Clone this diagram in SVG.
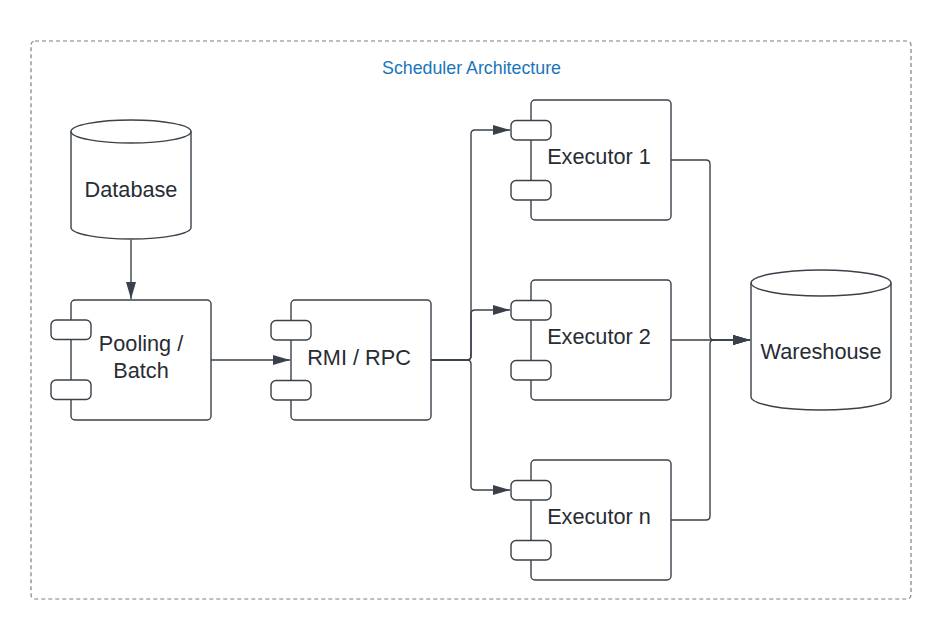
<svg xmlns="http://www.w3.org/2000/svg" width="951" height="639" viewBox="0 0 951 639">
<style>
.shape{fill:#fff;stroke:#3a414a;stroke-width:1.4}
.port{fill:#fff;stroke:#3a414a;stroke-width:1.4}
.conn{fill:none;stroke:#3a414a;stroke-width:1.4}
.lbl{font-family:"Liberation Sans",Arial,sans-serif;font-size:21.7px;fill:#282c33;text-anchor:middle}
.title{font-family:"Liberation Sans",Arial,sans-serif;font-size:17.8px;fill:#1a75bb;text-anchor:middle}
</style>
<defs>
<marker id="arr" markerUnits="userSpaceOnUse" markerWidth="18" markerHeight="12" refX="17" refY="5" orient="auto">
<path d="M0,0 L17,5 L0,10 Z" fill="#3a414a"/>
</marker>
</defs>
<rect width="951" height="639" fill="#fff"/>
<g id="container">
<rect x="31" y="41" width="880" height="558" rx="4" fill="none" stroke="#7a7f86" stroke-width="1.2" stroke-dasharray="4 3"/>
<text class="title" x="471.5" y="74">Scheduler Architecture</text>
</g>
<g id="connectors">
<path class="conn" d="M131,240 V299" marker-end="url(#arr)"/>
<path class="conn" d="M211,360 H290" marker-end="url(#arr)"/>
<path class="conn" d="M431,360 H467 Q471,360 471,356 V134 Q471,130 475,130 H510" marker-end="url(#arr)"/>
<path class="conn" d="M431,360 H467 Q471,360 471,356 V314 Q471,310 475,310 H510" marker-end="url(#arr)"/>
<path class="conn" d="M431,360 H467 Q471,360 471,364 V486 Q471,490 475,490 H510" marker-end="url(#arr)"/>
<path class="conn" d="M671,160 H706 Q710,160 710,164 V336 Q710,340 714,340 H750" marker-end="url(#arr)"/>
<path class="conn" d="M671,340 H750" marker-end="url(#arr)"/>
<path class="conn" d="M671,520 H706 Q710,520 710,516 V344 Q710,340 714,340 H750" marker-end="url(#arr)"/>
</g>
<g id="database">
<path class="shape" d="M71,131.5 A60,11.5 0 0 1 191,131.5 V227.5 A60,11.5 0 0 1 71,227.5 Z"/>
<path class="conn" d="M71,131.5 A60,11.5 0 0 0 191,131.5"/>
<text class="lbl" x="131" y="197">Database</text>
</g>
<g id="pooling">
<rect class="shape" x="71" y="300" width="140" height="120" rx="4"/>
<rect class="port" x="51" y="320" width="40" height="19.5" rx="5"/>
<rect class="port" x="51" y="380" width="40" height="19.5" rx="5"/>
<text class="lbl" x="141" y="351">Pooling /</text>
<text class="lbl" x="141" y="378">Batch</text>
</g>
<g id="rmi">
<rect class="shape" x="291" y="300" width="140" height="120" rx="4"/>
<rect class="port" x="271" y="320.5" width="40" height="19.5" rx="5"/>
<rect class="port" x="271" y="380.5" width="40" height="19.5" rx="5"/>
<text class="lbl" x="359" y="365">RMI / RPC</text>
</g>
<g id="executor1">
<rect class="shape" x="531" y="100" width="140" height="120" rx="4"/>
<rect class="port" x="511" y="120.5" width="40" height="19.5" rx="5"/>
<rect class="port" x="511" y="180.5" width="40" height="19.5" rx="5"/>
<text class="lbl" x="599" y="164">Executor 1</text>
</g>
<g id="executor2">
<rect class="shape" x="531" y="280" width="140" height="120" rx="4"/>
<rect class="port" x="511" y="300.5" width="40" height="19.5" rx="5"/>
<rect class="port" x="511" y="360.5" width="40" height="19.5" rx="5"/>
<text class="lbl" x="599" y="344">Executor 2</text>
</g>
<g id="executorn">
<rect class="shape" x="531" y="460" width="140" height="120" rx="4"/>
<rect class="port" x="511" y="480.5" width="40" height="19.5" rx="5"/>
<rect class="port" x="511" y="540.5" width="40" height="19.5" rx="5"/>
<text class="lbl" x="599" y="524">Executor n</text>
</g>
<g id="warehouse">
<path class="shape" d="M751,283 A70,13 0 0 1 891,283 V397 A70,13 0 0 1 751,397 Z"/>
<path class="conn" d="M751,283 A70,13 0 0 0 891,283"/>
<text class="lbl" x="821" y="359">Wareshouse</text>
</g>
</svg>
